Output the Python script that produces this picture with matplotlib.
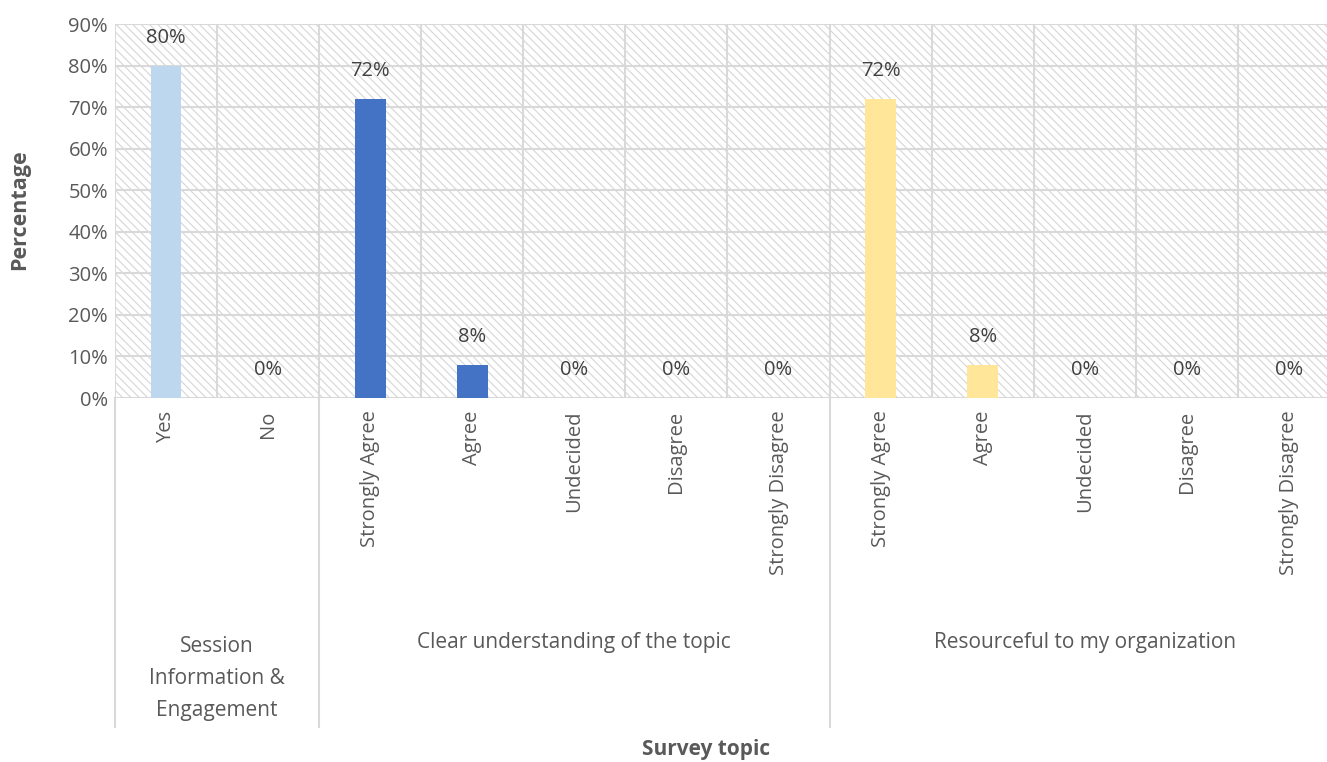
import matplotlib.pyplot as plt
from matplotlib.patches import Rectangle
from matplotlib.ticker import PercentFormatter, FixedLocator

plt.rcParams['font.family'] = ['Open Sans', 'DejaVu Sans']
plt.rcParams['hatch.linewidth'] = 0.8

# Data
categories = ["Yes", "No",
              "Strongly Agree", "Agree", "Undecided", "Disagree", "Strongly Disagree",
              "Strongly Agree", "Agree", "Undecided", "Disagree", "Strongly Disagree"]
values = [0.80, 0.00,
          0.72, 0.08, 0.00, 0.00, 0.00,
          0.72, 0.08, 0.00, 0.00, 0.00]
groups = ["Session\nInformation &\nEngagement",
          "Clear understanding of the topic",
          "Resourceful to my organization"]
group_sizes = [2, 5, 5]
group_colors = ["#BDD7EE", "#4472C4", "#FFE699"]

text_color = "#595959"
grid_color = "#D9D9D9"

fig = plt.figure(figsize=(13.27, 7.62), dpi=100)
ax = fig.add_axes([115 / 1327, 1 - 398 / 762, 1225 / 1327, 374 / 762])

# hatched plot background
ax.add_patch(Rectangle((0, 0), 1, 1, transform=ax.transAxes, facecolor="white",
                       edgecolor="#D6D6D6", hatch="\\\\\\\\", linewidth=0, zorder=0))

colors = []
for size, c in zip(group_sizes, group_colors):
    colors += [c] * size

x = list(range(len(categories)))
bars = ax.bar(x, values, width=0.3, color=colors, zorder=3)

for xi, v in zip(x, values):
    ax.annotate(f"{v:.0%}", (xi, v), xytext=(0, 20), textcoords="offset points",
                ha="center", va="center", fontsize=14.5, color="#404040", zorder=4)

ax.set_xlim(-0.5, len(categories) - 0.5)
ax.set_ylim(0, 0.9)
ax.set_yticks([i / 10 for i in range(10)])
ax.yaxis.set_major_formatter(PercentFormatter(1.0, decimals=0))
ax.set_xticks(x)
ax.set_xticklabels(categories, rotation=90, va="top")
ax.xaxis.set_minor_locator(FixedLocator([i + 0.5 for i in range(-1, len(categories))]))
ax.tick_params(axis="both", which="both", length=0, colors=text_color, labelsize=14.5)
ax.tick_params(axis="x", pad=9)
ax.tick_params(axis="y", pad=5)

ax.grid(axis="y", which="major", color=grid_color, linewidth=1.5, zorder=1)
ax.grid(axis="x", which="minor", color=grid_color, linewidth=1.5, zorder=1)
for s in ax.spines.values():
    s.set_visible(False)

# group separators and labels below the axis
trans = ax.get_xaxis_transform()
start = 0
bounds = [-0.5]
for size in group_sizes:
    start += size
    bounds.append(start - 0.5)
for b in bounds:
    ax.plot([b, b], [0, -0.88], transform=trans, color=grid_color, linewidth=1.5,
            clip_on=False)
start = 0
for g, size in zip(groups, group_sizes):
    center = start + (size - 1) / 2
    ypos = -0.655 if "\n" not in g else -0.75
    ax.text(center, ypos, g, transform=trans, ha="center", va="center",
            fontsize=15, color=text_color, linespacing=1.7)
    start += size

fig.text(20 / 1327, 1 - 210 / 762, "Percentage", rotation=90, ha="center", va="center",
         fontsize=15.5, fontweight="bold", color=text_color)
fig.text(706 / 1327, 1 - 750 / 762, "Survey topic", ha="center", va="center",
         fontsize=15, fontweight="bold", color=text_color)

fig.savefig("out.png", dpi=100)
